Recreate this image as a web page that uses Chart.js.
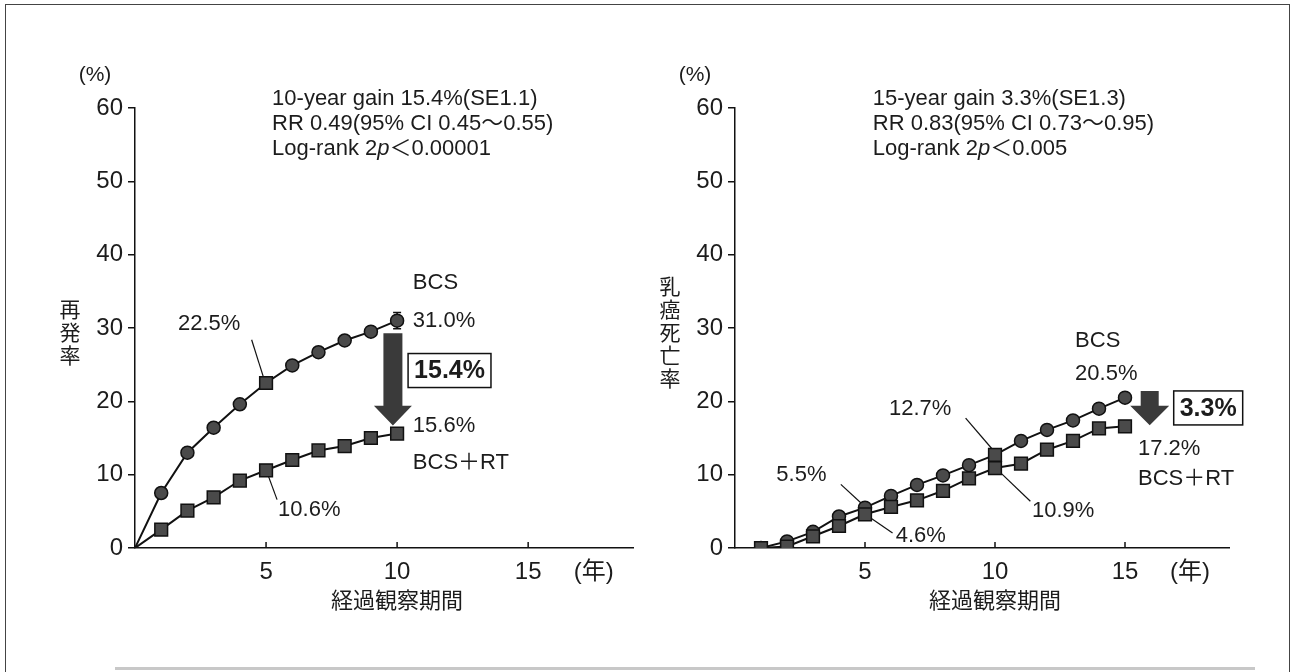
<!DOCTYPE html>
<html lang="ja">
<head>
<meta charset="UTF-8">
<title>BCS vs BCS+RT</title>
<script src="https://cdn.jsdelivr.net/npm/chart.js@4.4.1/dist/chart.umd.min.js"></script>
<style>
  html, body { margin: 0; padding: 0; background: #fff; }
  #page { position: relative; width: 1295px; height: 672px; overflow: hidden; }
  #frame { position: absolute; left: 5px; top: 4px; width: 1283px; height: 720px; border: 1.5px solid #444; }
  #foot { position: absolute; left: 115px; top: 667px; width: 1140px; border-top: 3px solid #c8c8c8; }
  .panel { position: absolute; top: 0; }
</style>
</head>
<body>
<div id="page">
  <div id="frame"></div>
  <div id="foot"></div>
  <canvas id="recur" class="panel" style="left:0" width="645" height="672"></canvas>
  <canvas id="death" class="panel" style="left:645px" width="650" height="672"></canvas>
</div>

<script>
// --- data ---
const recurYears = [0, 1, 2, 3, 4, 5, 6, 7, 8, 9, 10]
const recurBCS = [0, 7.5, 13.0, 16.4, 19.6, 22.5, 24.9, 26.7, 28.3, 29.5, 31.0]
const recurBCSRT = [0, 2.5, 5.1, 6.9, 9.2, 10.6, 12.0, 13.3, 13.9, 15.0, 15.6]
const recurSE = 1.1

const deathYears = [1, 2, 3, 4, 5, 6, 7, 8, 9, 10, 11, 12, 13, 14, 15]
const deathBCS = [0, 0.9, 2.2, 4.3, 5.5, 7.1, 8.6, 9.9, 11.3, 12.7, 14.6, 16.1, 17.4, 19.0, 20.5]
const deathBCSRT = [0, 0.2, 1.6, 3.0, 4.6, 5.6, 6.5, 7.8, 9.5, 10.9, 11.5, 13.4, 14.6, 16.3, 16.6]

const xTickValues = [5, 10, 15, 17.5]
const xTickLabels = ['5', '10', '15', '(年)']
const yTicks = [0, 10, 20, 30, 40, 50, 60]

const FONT = "'Liberation Sans', 'Noto Sans CJK JP', sans-serif"
const JP = "'Noto Sans CJK JP', sans-serif"
const INK = '#1c1c1c'

// draws captions, leader lines, arrows, tick marks, error bar
const notesPlugin = {
  id: 'notes',
  beforeDatasetsDraw(chart, args, opts) {
    const { ctx } = chart
    const px = v => chart.scales.x.getPixelForValue(v)
    const py = v => chart.scales.y.getPixelForValue(v)
    ctx.save()
    ctx.strokeStyle = '#111'
    ctx.lineWidth = 1.2
    for (const l of opts.leaders) {
      ctx.beginPath()
      ctx.moveTo(px(l[0]), py(l[1]))
      ctx.lineTo(px(l[2]), py(l[3]))
      ctx.stroke()
    }
    if (opts.errorBar) {
      const e = opts.errorBar
      const x = px(e.x)
      ctx.lineWidth = 1.5
      ctx.beginPath()
      ctx.moveTo(x, py(e.y - e.se)); ctx.lineTo(x, py(e.y + e.se))
      ctx.moveTo(x - 4, py(e.y + e.se)); ctx.lineTo(x + 4, py(e.y + e.se))
      ctx.moveTo(x - 4, py(e.y - e.se)); ctx.lineTo(x + 4, py(e.y - e.se))
      ctx.stroke()
    }
    ctx.restore()
  },
  afterDatasetsDraw(chart, args, opts) {
    const { ctx, chartArea: area } = chart
    const px = v => chart.scales.x.getPixelForValue(v)
    const py = v => chart.scales.y.getPixelForValue(v)
    ctx.save()

    // x tick marks point up into the plot
    ctx.strokeStyle = '#111'
    ctx.lineWidth = 1.5
    for (const v of xTickValues.slice(0, 3)) {
      ctx.beginPath()
      ctx.moveTo(px(v), area.bottom)
      ctx.lineTo(px(v), area.bottom - 6)
      ctx.stroke()
    }

    // big arrows
    for (const a of opts.arrows) {
      const x = px(a.x), top = py(a.top), neck = py(a.neck), tip = py(a.tip)
      ctx.fillStyle = '#3a3a3a'
      ctx.beginPath()
      ctx.moveTo(x - a.shaft / 2, top)
      ctx.lineTo(x + a.shaft / 2, top)
      ctx.lineTo(x + a.shaft / 2, neck)
      ctx.lineTo(x + a.head / 2, neck)
      ctx.lineTo(x, tip)
      ctx.lineTo(x - a.head / 2, neck)
      ctx.lineTo(x - a.shaft / 2, neck)
      ctx.closePath()
      ctx.fill()
    }

    // plain captions
    ctx.fillStyle = INK
    ctx.textBaseline = 'middle'
    ctx.textAlign = 'left'
    for (const t of opts.texts) {
      let x = px(t.x)
      const parts = t.parts || [{ t: t.text }]
      for (const p of parts) {
        ctx.font = (p.italic ? 'italic ' : '') + '22px ' + FONT
        ctx.fillText(p.t, x, py(t.y))
        x += ctx.measureText(p.t).width
      }
    }

    // boxed differences
    for (const b of opts.boxes) {
      ctx.font = 'bold 25px ' + FONT
      const w = ctx.measureText(b.text).width + 12
      const x = px(b.x), y = py(b.y)
      ctx.lineWidth = 1.5
      ctx.strokeRect(x - w / 2, y - 17, w, 34)
      ctx.textAlign = 'center'
      ctx.fillText(b.text, x, y + 1)
    }

    // axis captions
    ctx.textAlign = 'center'
    ctx.font = '21px ' + FONT
    ctx.fillText(opts.yUnit, area.left - 40, area.top - 33)
    ctx.font = '21px ' + JP
    const chars = [...opts.yTitle]
    const lh = 23
    const y0 = (area.top + area.bottom) / 2 + 4 - (chars.length - 1) * lh / 2
    chars.forEach((c, i) => ctx.fillText(c, area.left - 65, y0 + i * lh))
    ctx.font = '22px ' + JP
    ctx.fillText(opts.xTitle, px(10), area.bottom + 52)

    ctx.restore()
  }
}

function series(years, values, squareAt, first) {
  const shape = years.map(y => (squareAt === null || y === squareAt) ? 'rect' : 'circle')
  return {
    data: years.map((x, i) => ({ x, y: values[i] })),
    borderColor: '#111',
    borderWidth: 2,
    tension: 0,
    pointStyle: shape,
    pointBackgroundColor: '#4a4a4a',
    pointBorderColor: '#111',
    pointBorderWidth: 1.5,
    pointRadius: c => c.raw && c.raw.x === 0 && c.raw.y === 0 && first === 0 ? 0 : (shape[c.dataIndex] === 'rect' ? 9 : 6.5)
  }
}

function panel(id, cfg) {
  return new Chart(document.getElementById(id), {
    type: 'line',
    data: { datasets: cfg.datasets },
    options: {
      responsive: false,
      animation: false,
      layout: { padding: cfg.padding },
      plugins: { legend: { display: false }, tooltip: { enabled: false }, notes: cfg.notes },
      scales: {
        x: {
          type: 'linear', min: 0, max: 19,
          afterFit: s => { s.height = 72 },
          afterBuildTicks: s => { s.ticks = xTickValues.map(v => ({ value: v })) },
          ticks: { autoSkip: false, maxRotation: 0, padding: 10, color: INK, font: { family: FONT, size: 24 }, callback: (v, i) => xTickLabels[i] },
          grid: { drawOnChartArea: false, drawTicks: false },
          border: { color: '#111', width: 1.5 }
        },
        y: {
          min: 0, max: 60,
          afterFit: s => { s.width = cfg.yWidth },
          afterBuildTicks: s => { s.ticks = yTicks.map(v => ({ value: v })) },
          ticks: { padding: 5, color: INK, font: { family: FONT, size: 24 } },
          grid: { drawOnChartArea: false, drawTicks: true, tickLength: 7, color: '#111', lineWidth: 1.5 },
          border: { color: '#111', width: 1.5 }
        }
      }
    },
    plugins: [notesPlugin]
  })
}

panel('recur', {
  yWidth: 135,
  padding: { left: 0, right: 12, top: 108, bottom: 52 },
  datasets: [series(recurYears, recurBCSRT, null, 0), series(recurYears, recurBCS, 5, 0)],
  notes: {
    yUnit: '(%)', yTitle: '再発率', xTitle: '経過観察期間',
    errorBar: { x: 10, y: recurBCS[10], se: recurSE },
    arrows: [{ x: 9.84, top: 29.3, neck: 19.4, tip: 16.7, shaft: 19, head: 38 }],
    boxes: [{ text: '15.4%', x: 12.0, y: 24.2 }],
    leaders: [[4.45, 28.4, 4.9, 23.3], [5.1, 9.7, 5.42, 6.6]],
    texts: [
      { text: '10-year gain 15.4%(SE1.1)', x: 5.23, y: 61.2 },
      { text: 'RR 0.49(95% CI 0.45〜0.55)', x: 5.23, y: 57.8 },
      { parts: [{ t: 'Log-rank 2' }, { t: 'p', italic: true }, { t: '＜0.00001' }], x: 5.23, y: 54.4 },
      { text: 'BCS', x: 10.6, y: 36.2 },
      { text: '31.0%', x: 10.6, y: 30.9 },
      { text: '15.6%', x: 10.6, y: 16.6 },
      { text: 'BCS＋RT', x: 10.6, y: 11.6 },
      { text: '22.5%', x: 1.64, y: 30.5 },
      { text: '10.6%', x: 5.46, y: 5.2 }
    ]
  }
})

panel('death', {
  yWidth: 90,
  padding: { left: 0, right: 66, top: 108, bottom: 52 },
  datasets: [series(deathYears, deathBCSRT, null, 1), series(deathYears, deathBCS, 10, 1)],
  notes: {
    yUnit: '(%)', yTitle: '乳癌死亡率', xTitle: '経過観察期間',
    errorBar: null,
    arrows: [{ x: 15.95, top: 21.4, neck: 19.4, tip: 16.75, shaft: 18, head: 39 }],
    boxes: [{ text: '3.3%', x: 18.2, y: 19.1 }],
    leaders: [[8.87, 17.7, 9.89, 13.5], [4.07, 8.67, 4.91, 5.93], [6.06, 2.05, 5.22, 4.1], [11.36, 6.38, 10.21, 10.27]],
    texts: [
      { text: '15-year gain 3.3%(SE1.3)', x: 5.3, y: 61.2 },
      { text: 'RR 0.83(95% CI 0.73〜0.95)', x: 5.3, y: 57.8 },
      { parts: [{ t: 'Log-rank 2' }, { t: 'p', italic: true }, { t: '＜0.005' }], x: 5.3, y: 54.4 },
      { text: 'BCS', x: 13.08, y: 28.2 },
      { text: '20.5%', x: 13.08, y: 23.75 },
      { text: '17.2%', x: 15.5, y: 13.5 },
      { text: 'BCS＋RT', x: 15.5, y: 9.4 },
      { text: '12.7%', x: 5.92, y: 18.9 },
      { text: '5.5%', x: 1.59, y: 9.9 },
      { text: '4.6%', x: 6.18, y: 1.6 },
      { text: '10.9%', x: 11.42, y: 5.0 }
    ]
  }
})
</script>
</body>
</html>
